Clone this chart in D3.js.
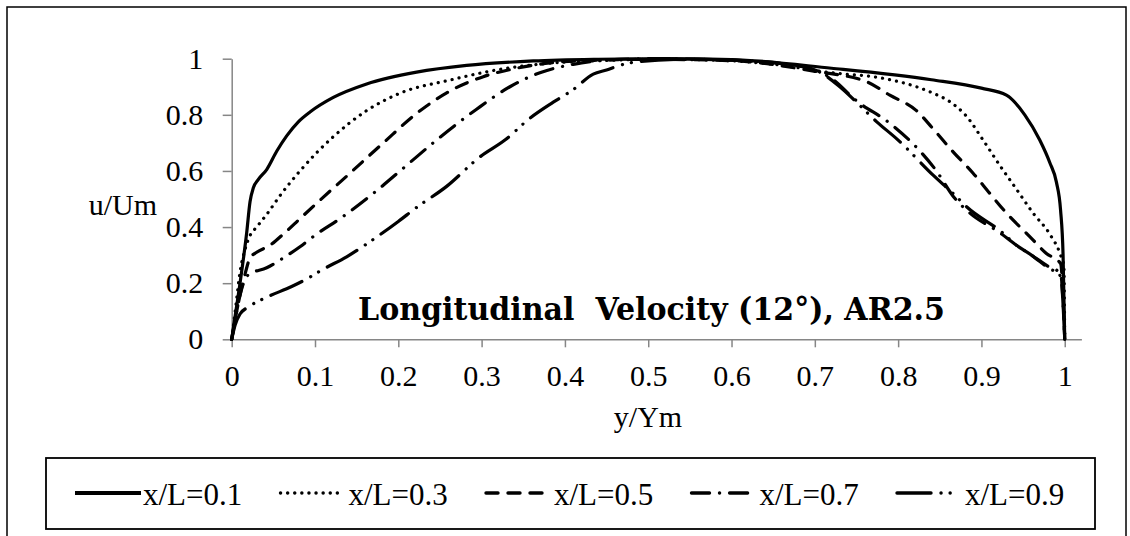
<!DOCTYPE html>
<html>
<head>
<meta charset="utf-8">
<script src="https://cdn.jsdelivr.net/npm/d3@7"></script>
<style>
  body { margin: 0; background: #fff; }
  svg { display: block; }
</style>
</head>
<body>
<svg id="chart" width="1130" height="536"></svg>
<script>
// Axis ticks
const xTicks = [0, 0.1, 0.2, 0.3, 0.4, 0.5, 0.6, 0.7, 0.8, 0.9, 1];
const xTickLabels = ["0", "0.1", "0.2", "0.3", "0.4", "0.5", "0.6", "0.7", "0.8", "0.9", "1"];
const yTicks = [0, 0.2, 0.4, 0.6, 0.8, 1];
const yTickLabels = ["0", "0.2", "0.4", "0.6", "0.8", "1"];

// Velocity profiles: [y/Ym, u/Um] for each streamwise station
const seriesNames = ["x/L=0.1", "x/L=0.3", "x/L=0.5", "x/L=0.7", "x/L=0.9"];

const profile01 = [
  [0, 0], [0.005, 0.1], [0.01, 0.2], [0.018, 0.38], [0.022, 0.49], [0.026, 0.54],
  [0.032, 0.57], [0.042, 0.605], [0.054, 0.67], [0.066, 0.725], [0.08, 0.775],
  [0.094, 0.81], [0.122, 0.862], [0.162, 0.91], [0.222, 0.952], [0.282, 0.976],
  [0.362, 0.992], [0.44, 0.998], [0.52, 1.0], [0.6, 0.997], [0.72, 0.966],
  [0.84, 0.925], [0.9, 0.895], [0.93, 0.87], [0.952, 0.8], [0.97, 0.71],
  [0.982, 0.63], [0.99, 0.56], [0.995, 0.46], [0.998, 0.3], [1.0, 0]
];
const profile03 = [
  [0, 0], [0.005, 0.12], [0.01, 0.24], [0.016, 0.32], [0.022, 0.37], [0.03, 0.4],
  [0.042, 0.445], [0.06, 0.52], [0.082, 0.6], [0.102, 0.665], [0.122, 0.722],
  [0.162, 0.815], [0.202, 0.877], [0.262, 0.924], [0.322, 0.962], [0.382, 0.984],
  [0.442, 0.993], [0.5, 0.998], [0.58, 0.995], [0.65, 0.98], [0.72, 0.95],
  [0.782, 0.93], [0.822, 0.9], [0.842, 0.877], [0.862, 0.847], [0.882, 0.795],
  [0.902, 0.71], [0.922, 0.62], [0.942, 0.535], [0.962, 0.45], [0.982, 0.375],
  [0.995, 0.3], [0.999, 0.26], [1.0, 0]
];
const profile05 = [
  [0, 0], [0.008, 0.13], [0.015, 0.22], [0.022, 0.29], [0.03, 0.31], [0.046, 0.335],
  [0.062, 0.375], [0.082, 0.43], [0.102, 0.485], [0.142, 0.592], [0.182, 0.7],
  [0.222, 0.805], [0.262, 0.885], [0.302, 0.936], [0.342, 0.966], [0.382, 0.985],
  [0.442, 0.995], [0.5, 0.998], [0.6, 0.993], [0.7, 0.955], [0.762, 0.918],
  [0.79, 0.87], [0.822, 0.815], [0.842, 0.75], [0.866, 0.668], [0.89, 0.592],
  [0.91, 0.52], [0.93, 0.45], [0.958, 0.366], [0.978, 0.306], [0.995, 0.27], [1.0, 0]
];
const profile07 = [
  [0, 0], [0.006, 0.1], [0.012, 0.18], [0.02, 0.23], [0.042, 0.255], [0.062, 0.29],
  [0.082, 0.33], [0.102, 0.375], [0.13, 0.43], [0.17, 0.52], [0.21, 0.62],
  [0.25, 0.72], [0.294, 0.82], [0.334, 0.9], [0.37, 0.95], [0.41, 0.98],
  [0.45, 0.995], [0.5, 1.0], [0.6, 0.995], [0.68, 0.975], [0.72, 0.93],
  [0.75, 0.85], [0.79, 0.77], [0.828, 0.665], [0.846, 0.6], [0.866, 0.51],
  [0.886, 0.45], [0.922, 0.38], [0.942, 0.335], [0.96, 0.3], [0.98, 0.26],
  [0.995, 0.235], [1.0, 0]
];
const profile09 = [
  [0, 0], [0.004, 0.05], [0.01, 0.09], [0.02, 0.115], [0.042, 0.15], [0.072, 0.188],
  [0.09, 0.215], [0.11, 0.25], [0.138, 0.294], [0.168, 0.352], [0.2, 0.42],
  [0.222, 0.47], [0.258, 0.545], [0.298, 0.65], [0.328, 0.71], [0.358, 0.788],
  [0.386, 0.845], [0.41, 0.89], [0.434, 0.945], [0.45, 0.96], [0.468, 0.978],
  [0.49, 0.99], [0.55, 0.998], [0.65, 0.985], [0.7, 0.96], [0.73, 0.9],
  [0.75, 0.845], [0.774, 0.776], [0.8, 0.71], [0.842, 0.585], [0.868, 0.514],
  [0.882, 0.473], [0.926, 0.378], [0.94, 0.34], [0.96, 0.3], [0.98, 0.255],
  [0.995, 0.225], [1.0, 0]
];
const profiles = [profile01, profile03, profile05, profile07, profile09];

// Stroke patterns per station and length of each legend sample
const strokeDash = [null, "0.1 7", "12 10", "18 10 0.1 10", "34 10 0.1 9 0.1 10"];
const sampleLength = [66, 62, 66, 57, 56];

const serif = "'Times New Roman', 'Liberation Serif', serif";
const svg = d3.select("#chart");

// outer chart border
svg.append("rect")
  .attr("x", 7).attr("y", 7)
  .attr("width", 1119).attr("height", 560)
  .attr("fill", "none").attr("stroke", "#000").attr("stroke-width", 1.5);

const x = d3.scaleLinear().domain([0, 1.02]).range([231.7, 1081.4]);
const y = d3.scaleLinear().domain([0, 1]).range([339.3, 58.7]);

const axisColor = "#868686";

const gx = svg.append("g")
  .attr("transform", `translate(0,${y(0)})`)
  .call(d3.axisBottom(x)
    .tickValues(xTicks)
    .tickFormat((d, i) => xTickLabels[i])
    .tickSizeInner(8).tickSizeOuter(0).tickPadding(17.5));

const gy = svg.append("g")
  .attr("transform", `translate(${x(0)},0)`)
  .call(d3.axisLeft(y)
    .tickValues(yTicks)
    .tickFormat((d, i) => yTickLabels[i])
    .tickSizeInner(9).tickSizeOuter(0).tickPadding(19.5));

[gx, gy].forEach(g => {
  g.select(".domain").attr("stroke", axisColor).attr("stroke-width", 1.5);
  g.selectAll(".tick line").attr("stroke", axisColor).attr("stroke-width", 1.5);
  g.selectAll(".tick text")
    .attr("fill", "#000")
    .style("font-family", serif)
    .style("font-size", "30px");
});

// axis titles
svg.append("text")
  .attr("x", 157).attr("y", 215)
  .attr("text-anchor", "end")
  .style("font-family", serif).style("font-size", "30px")
  .text("u/Um");

svg.append("text")
  .attr("x", 648).attr("y", 427)
  .attr("text-anchor", "middle")
  .style("font-family", serif).style("font-size", "30px")
  .text("y/Ym");

// chart title inside the plot
svg.append("text")
  .attr("x", 651.5).attr("y", 320)
  .attr("text-anchor", "middle")
  .attr("textLength", 587).attr("lengthAdjust", "spacingAndGlyphs")
  .style("font-family", "'DejaVu Serif', serif")
  .style("font-weight", "bold").style("font-size", "31px")
  .style("white-space", "pre")
  .text("Longitudinal  Velocity (12°), AR2.5");

// profile curves
const line = d3.line()
  .x(d => x(d[0]))
  .y(d => y(d[1]))
  .curve(d3.curveMonotoneX);

svg.append("g").selectAll("path")
  .data(profiles)
  .join("path")
  .attr("d", line)
  .attr("fill", "none")
  .attr("stroke", "#000")
  .attr("stroke-width", 3.2)
  .attr("stroke-linecap", "round")
  .attr("stroke-linejoin", "round")
  .attr("stroke-dasharray", (d, i) => strokeDash[i]);

// legend
svg.append("rect")
  .attr("x", 46).attr("y", 458)
  .attr("width", 1049).attr("height", 71)
  .attr("fill", "none").attr("stroke", "#000").attr("stroke-width", 1.8);

const legendItems = svg.append("g").selectAll("g")
  .data(seriesNames)
  .join("g")
  .attr("transform", (d, i) => `translate(${75 + i * 205.5},0)`);

legendItems.append("line")
  .attr("x1", 0).attr("x2", (d, i) => sampleLength[i])
  .attr("y1", 493).attr("y2", 493)
  .attr("stroke", "#000")
  .attr("stroke-width", (d, i) => i === 0 ? 3.8 : 3.4)
  .attr("stroke-linecap", (d, i) => i === 0 ? "butt" : "round")
  .attr("stroke-dasharray", (d, i) => strokeDash[i]);

legendItems.append("text")
  .attr("x", 68).attr("y", 505)
  .style("font-family", serif).style("font-size", "31px")
  .text(d => d);
</script>
</body>
</html>
